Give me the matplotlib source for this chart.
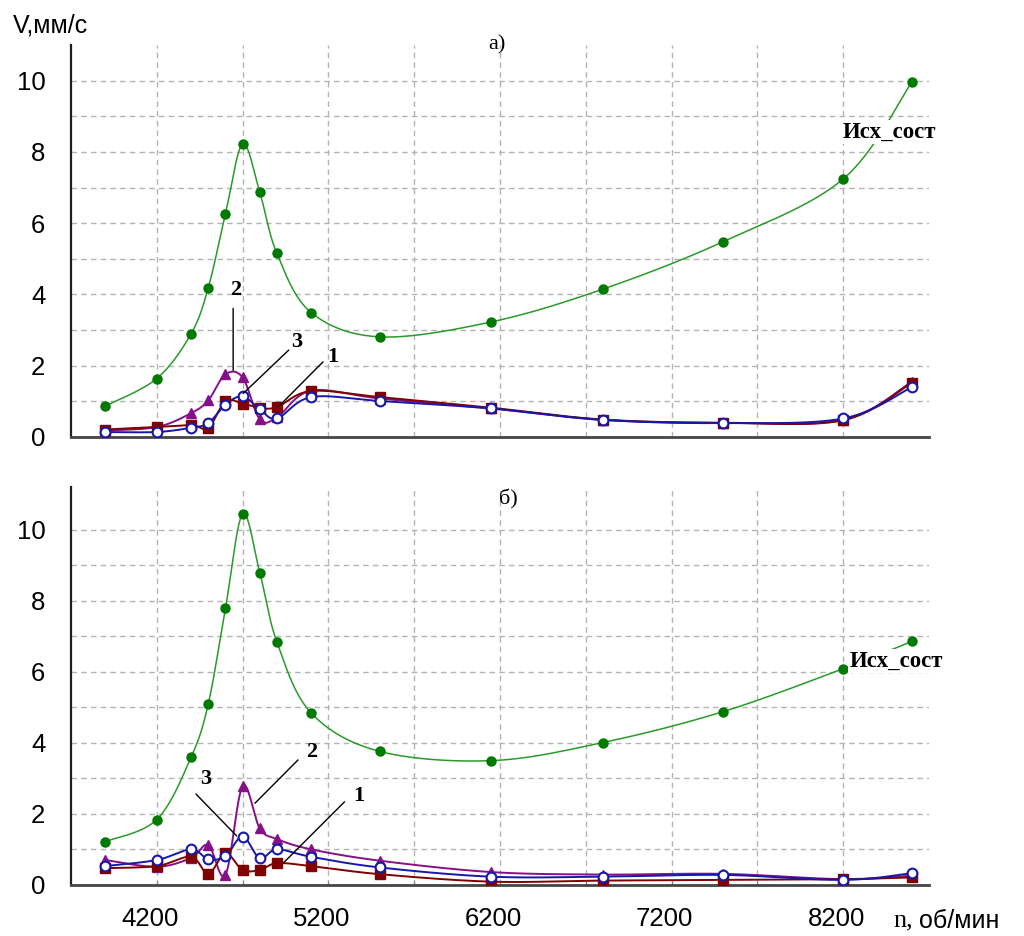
import numpy as np
import matplotlib
matplotlib.use("Agg")
import matplotlib.pyplot as plt
import matplotlib.transforms as mtransforms

# Rotor speed, rpm
rpm = [3900, 4200, 4400, 4500, 4600, 4700, 4800, 4900, 5100, 5500, 6150, 6800, 7500, 8200, 8600]

# Panel a): vibration velocity, mm/s
a_init = [0.87, 1.64, 2.90, 4.19, 6.26, 8.22, 6.87, 5.15, 3.49, 2.81, 3.23, 4.15, 5.48, 7.24, 9.96]
a_1 = [0.21, 0.28, 0.33, 0.26, 1.00, 0.94, 0.82, 0.84, 1.29, 1.12, 0.82, 0.49, 0.40, 0.47, 1.52]
a_2 = [0.18, 0.28, 0.67, 1.03, 1.76, 1.67, 0.50, 0.55, 1.30, 1.08, 0.80, 0.48, 0.40, 0.48, 1.55]
a_3 = [0.14, 0.14, 0.26, 0.39, 0.91, 1.14, 0.78, 0.52, 1.12, 1.01, 0.80, 0.48, 0.39, 0.52, 1.40]

# Panel б): vibration velocity, mm/s
b_init = [1.21, 1.83, 3.59, 5.09, 7.78, 10.44, 8.79, 6.83, 4.83, 3.75, 3.49, 4.00, 4.87, 6.08, 6.85]
b_1 = [0.46, 0.52, 0.78, 0.30, 0.88, 0.41, 0.41, 0.60, 0.52, 0.29, 0.08, 0.11, 0.13, 0.15, 0.20]
b_2 = [0.69, 0.50, 0.75, 1.11, 0.27, 2.77, 1.58, 1.28, 0.99, 0.67, 0.35, 0.28, 0.30, 0.15, 0.25]
b_3 = [0.52, 0.69, 0.99, 0.71, 0.80, 1.35, 0.74, 0.99, 0.78, 0.48, 0.22, 0.22, 0.27, 0.13, 0.32]

x_labels = ["4200", "5200", "6200", "7200", "8200"]
y_labels = ["0", "2", "4", "6", "8", "10"]
init_name = "Исх_сост"

SANS = "Liberation Sans"
SERIF = "Liberation Serif"

GREEN_LINE = "#2a9a2a"
GREEN_MK = "#007a00"
RED = "#800000"
PURPLE = "#85108a"
BLUE = "#1818a8"


def smooth(x, y, sx=0.172, sy=35.6, n=40):
    """Bezier smoothing through the points (tangent = neighbour chord / 6)."""
    p = np.column_stack([np.asarray(x, float) * sx, np.asarray(y, float) * sy])
    out = []
    for i in range(len(p) - 1):
        p0 = p[i - 1] if i > 0 else p[i]
        p1, p2 = p[i], p[i + 1]
        p3 = p[i + 2] if i + 2 < len(p) else p[i + 1]
        c1 = p1 + (p2 - p0) / 6.0
        c2 = p2 - (p3 - p1) / 6.0
        t = np.linspace(0, 1, n)[:, None]
        seg = (1 - t) ** 3 * p1 + 3 * (1 - t) ** 2 * t * c1 + 3 * (1 - t) * t ** 2 * c2 + t ** 3 * p2
        out.append(seg if i == 0 else seg[1:])
    arr = np.vstack(out)
    return arr[:, 0] / sx, arr[:, 1] / sy


fig = plt.figure(figsize=(10.24, 9.36), dpi=100)
W, H = 1024.0, 936.0
ax_top = fig.add_axes([71 / W, 1 - 437 / H, (929 - 71) / W, (437 - 45) / H])
ax_bot = fig.add_axes([71 / W, 1 - 884.5 / H, (929 - 71) / W, (884.5 - 487) / H])


def style_axes(ax, ymax, show_x):
    ax.set_xlim(3700, 8700)
    ax.set_ylim(0, ymax)
    for s in ("top", "right"):
        ax.spines[s].set_visible(False)
    ax.spines["left"].set_color("#202020")
    ax.spines["left"].set_linewidth(1.6)
    ax.spines["bottom"].set_color("#454545")
    ax.spines["bottom"].set_linewidth(2.0)
    ax.set_xticks(np.arange(4200, 8201, 500))
    ax.set_yticks(np.arange(0, 11, 1))
    ax.grid(True, color="#b4b4b4", linestyle=(0, (4, 3)), linewidth=1.0)
    ax.set_axisbelow(True)
    ax.set_yticklabels([y_labels[i // 2] if i % 2 == 0 else "" for i in range(11)],
                       family=SANS, fontsize=18.5)
    ax.tick_params(axis="y", length=0, pad=18.5)
    if show_x:
        ax.set_xticklabels([x_labels[i // 2] if i % 2 == 0 else "" for i in range(9)],
                           family=SANS, fontsize=18.5)
        ax.tick_params(axis="x", length=3, direction="in", pad=16, color="#808080")
        off = mtransforms.ScaledTranslation(-7 / 100, 0, fig.dpi_scale_trans)
        for lab in ax.get_xticklabels():
            lab.set_transform(lab.get_transform() + off)
    else:
        ax.set_xticklabels([])
        ax.tick_params(axis="x", length=0)


def draw_panel(ax, init, s1, s2, s3):
    sx, sy = smooth(rpm, init)
    ax.plot(sx, sy, color=GREEN_LINE, lw=1.1, zorder=3)
    ax.plot(rpm, init, "o", color=GREEN_MK, ms=6.5, zorder=4)

    sx, sy = smooth(rpm, s2)
    ax.plot(sx, sy, color=PURPLE, lw=1.4, zorder=3)
    ax.plot(rpm, s2, "^", color=PURPLE, ms=6.5, zorder=4)

    sx, sy = smooth(rpm, s1)
    ax.plot(sx, sy, color=RED, lw=1.4, zorder=3)
    ax.plot(rpm, s1, "s", color=RED, ms=6.5, zorder=4)

    sx, sy = smooth(rpm, s3)
    ax.plot(sx, sy, color=BLUE, lw=1.4, zorder=3)
    ax.plot(rpm, s3, "o", mfc="white", mec=BLUE, mew=1.5, ms=7, zorder=5)


def leader(ax, text, xy, xytext, tpos):
    ax.annotate("", xy=xy, xytext=xytext,
                arrowprops=dict(arrowstyle="-", color="black", lw=1.0, shrinkA=0, shrinkB=0),
                zorder=6)
    ax.text(tpos[0], tpos[1], text, family=SERIF, fontweight="bold", fontsize=16,
            ha="center", va="center", zorder=7)


style_axes(ax_top, 11.0, False)
style_axes(ax_bot, 11.2, True)

draw_panel(ax_top, a_init, a_1, a_2, a_3)
draw_panel(ax_bot, b_init, b_1, b_2, b_3)

# Panel a) annotations
leader(ax_top, "2", (4645, 1.87), (4645, 3.61), (4661, 4.12))
leader(ax_top, "3", (4703, 1.22), (4969, 2.44), (5016, 2.67))
leader(ax_top, "1", (4917, 0.89), (5169, 2.11), (5223, 2.25))
ax_top.text(8470, 8.56, init_name, family=SERIF, fontweight="bold", fontsize=16.5,
            ha="center", va="center", zorder=7,
            bbox=dict(facecolor="white", edgecolor="none", pad=1.0))
ax_top.text(0.496, 1.0, "а)", transform=ax_top.transAxes, family=SERIF,
            fontsize=16, ha="center", va="center")

# Panel б) annotations
leader(ax_bot, "2", (4772, 2.29), (5023, 3.51), (5101, 3.74))
leader(ax_bot, "3", (4665, 1.37), (4428, 2.55), (4485, 2.96))
leader(ax_bot, "1", (4936, 0.60), (5294, 2.33), (5376, 2.49))
ax_bot.text(8510, 6.3, init_name, family=SERIF, fontweight="bold", fontsize=16.5,
            ha="center", va="center", zorder=7,
            bbox=dict(facecolor="white", edgecolor="none", pad=1.0))
fig.text(508 / W, 1 - 499 / H, "б)", family=SERIF, fontsize=16, ha="center", va="center")

# Axis titles
fig.text(13 / W, 1 - 26 / H, "V,мм/с", family=SANS, fontsize=18, ha="left", va="center")
fig.text(893 / W, 1 - 920 / H, "n,", family=SERIF, fontsize=19, ha="left", va="center")
fig.text(919 / W, 1 - 921 / H, "об/мин", family=SANS, fontsize=18, ha="left", va="center")

fig.savefig("out.png", dpi=100, facecolor="white")
